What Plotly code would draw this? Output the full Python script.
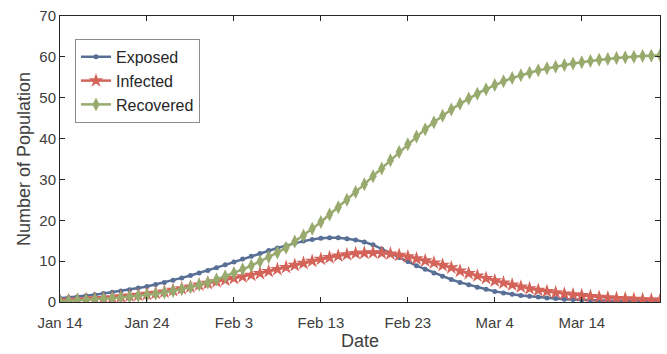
import pandas as pd
import plotly.graph_objects as go

# Daily dates of the simulation window
start_date = "2020-01-14"
n_days = 70
dates = pd.date_range(start_date, periods=n_days, freq="D")

exposed = [
    0.9, 1.1, 1.3, 1.5, 1.8, 2.1, 2.4, 2.7, 3.0, 3.4,
    3.8, 4.3, 4.8, 5.3, 5.9, 6.5, 7.1, 7.7, 8.4, 9.1,
    9.8, 10.5, 11.2, 11.9, 12.6, 13.2, 13.8, 14.4, 14.9, 15.3,
    15.6, 15.7, 15.7, 15.5, 15.2, 14.7, 14.0, 13.0, 11.9, 10.9,
    9.9, 8.9, 8.0, 7.1, 6.3, 5.5, 4.8, 4.2, 3.6, 3.1,
    2.6, 2.2, 1.9, 1.6, 1.4, 1.2, 1.0, 0.85, 0.7, 0.6,
    0.5, 0.42, 0.35, 0.3, 0.25, 0.2, 0.17, 0.14, 0.12, 0.1,
]
infected = [
    0.3, 0.4, 0.5, 0.6, 0.8, 0.9, 1.1, 1.3, 1.5, 1.7,
    1.9, 2.2, 2.5, 2.9, 3.3, 3.7, 4.2, 4.6, 5.0, 5.4,
    5.8, 6.2, 6.6, 7.0, 7.5, 8.0, 8.5, 9.0, 9.5, 10.0,
    10.5, 10.9, 11.3, 11.6, 11.9, 12.0, 12.1, 12.0, 11.8, 11.5,
    11.1, 10.6, 10.1, 9.6, 9.0, 8.4, 7.6, 7.0, 6.4, 5.8,
    5.2, 4.7, 4.2, 3.7, 3.3, 2.9, 2.6, 2.3, 2.0, 1.8,
    1.6, 1.4, 1.2, 1.05, 0.9, 0.8, 0.7, 0.6, 0.5, 0.45,
]
recovered = [
    0.2, 0.3, 0.4, 0.5, 0.6, 0.8, 0.9, 1.1, 1.3, 1.5,
    1.7, 2.0, 2.3, 2.7, 3.1, 3.6, 4.2, 4.8, 5.5, 6.3,
    7.1, 8.0, 8.9, 9.9, 11.0, 12.1, 13.3, 14.8, 16.3, 17.9,
    19.6, 21.4, 23.2, 25.0, 26.9, 28.8, 30.8, 32.7, 34.7, 36.7,
    38.6, 40.5, 42.3, 44.0, 45.6, 47.1, 48.5, 49.8, 51.0, 52.1,
    53.1, 54.0, 54.8, 55.5, 56.1, 56.7, 57.2, 57.6, 58.0, 58.4,
    58.7, 59.0, 59.3, 59.5, 59.7, 59.9, 60.0, 60.2, 60.3, 60.4,
]

x_tick_dates = ["2020-01-14", "2020-01-24", "2020-02-03", "2020-02-13",
                "2020-02-23", "2020-03-04", "2020-03-14"]
x_tick_labels = ["Jan 14", "Jan 24", "Feb 3", "Feb 13", "Feb 23", "Mar 4", "Mar 14"]
y_ticks = [0, 10, 20, 30, 40, 50, 60, 70]

FONT = "Liberation Sans, Arial, sans-serif"
AXIS_COLOR = "#262626"
TEXT_COLOR = "#404040"

series = [
    ("Exposed", exposed, "#586f96", dict(symbol="circle", size=5)),
    ("Infected", infected, "#d4635a", dict(symbol="star", size=11)),
    ("Recovered", recovered, "#98aa6e", dict(symbol="diamond-tall", size=10)),
]

fig = go.Figure()
for name, values, color, marker in series:
    fig.add_trace(go.Scatter(
        x=dates, y=values, name=name, mode="lines+markers",
        line=dict(color=color, width=2.5),
        marker=dict(color=color, line=dict(width=0), **marker),
    ))

fig.update_layout(
    width=667, height=354,
    margin=dict(l=60, r=7, t=16, b=52),
    paper_bgcolor="white", plot_bgcolor="white",
    font=dict(family=FONT, color=TEXT_COLOR, size=15),
    showlegend=True,
    legend=dict(
        x=0.025, y=0.92, xanchor="left", yanchor="top",
        bgcolor="white", bordercolor="#8c8c8c", borderwidth=1,
        font=dict(family=FONT, size=16, color="#262626"),
        itemwidth=30, tracegroupgap=0,
    ),
)

fig.update_xaxes(
    range=[dates[0], dates[-1]],
    tickmode="array", tickvals=x_tick_dates, ticktext=x_tick_labels,
    ticks="inside", ticklen=5, tickcolor=AXIS_COLOR,
    ticklabelstandoff=7,
    showline=True, linecolor=AXIS_COLOR, linewidth=1, mirror="ticks",
    showgrid=False, zeroline=False,
    title=dict(text="Date", font=dict(size=18, color=TEXT_COLOR), standoff=4),
    tickfont=dict(size=15, color=TEXT_COLOR),
)
fig.update_yaxes(
    range=[0, 70],
    tickmode="array", tickvals=y_ticks,
    ticks="inside", ticklen=5, tickcolor=AXIS_COLOR,
    showline=True, linecolor=AXIS_COLOR, linewidth=1, mirror="ticks",
    showgrid=False, zeroline=False,
    title=dict(text="Number of Population", font=dict(size=18, color=TEXT_COLOR), standoff=4),
    tickfont=dict(size=15, color=TEXT_COLOR),
)

fig.write_html("out.html")
